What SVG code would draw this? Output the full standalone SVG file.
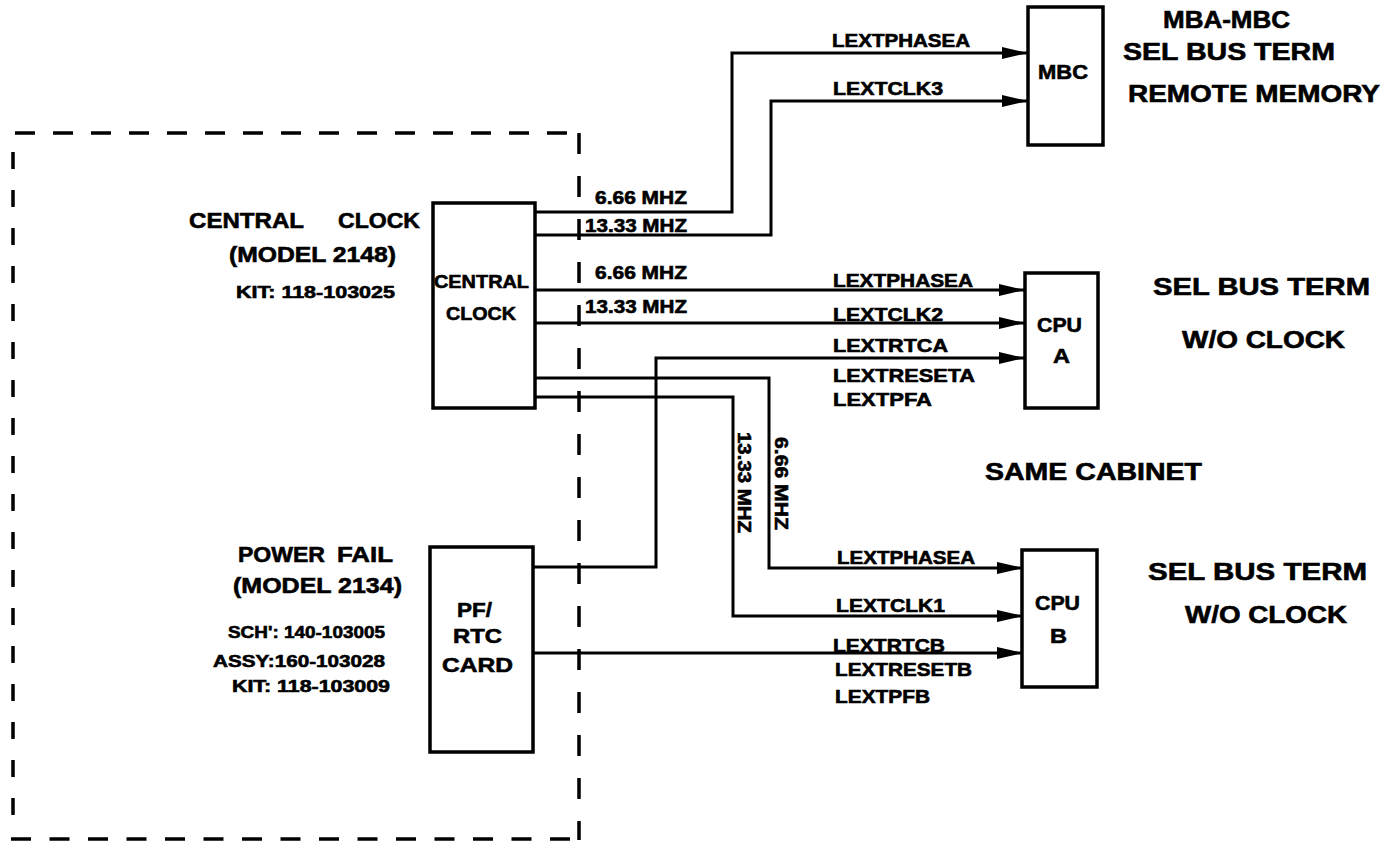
<svg xmlns="http://www.w3.org/2000/svg" width="1383" height="843" viewBox="0 0 1383 843">
<style>
text{font-family:"Liberation Sans",Arial,Helvetica,sans-serif;font-weight:bold;fill:#000;stroke:#000;stroke-width:0.6}
.sig{font-size:18px}
.lg{font-size:22px}
.rt{font-size:24px}
.sm{font-size:17px}
.bx{font-size:21px}
.box{fill:#fff;stroke:#000;stroke-width:3.5}
.wire{fill:none;stroke:#000;stroke-width:3;marker-end:url(#arr)}
.dash{fill:none;stroke:#000;stroke-width:3.5}
</style>
<defs>
<marker id="arr" markerUnits="userSpaceOnUse" markerWidth="26" markerHeight="14" refX="26" refY="7" orient="auto">
<path d="M0,1 L26,7 L0,13 Z" fill="#000"/>
</marker>
</defs>
<rect width="1383" height="843" fill="#fff"/>

<g id="cabinet-border">
<path class="dash" d="M15,133 H580" stroke-dasharray="20 18"/>
<path class="dash" d="M579,133 V840" stroke-dasharray="21 22"/>
<path class="dash" d="M13,152 V830" stroke-dasharray="17 21"/>
<path class="dash" d="M11,839 H578" stroke-dasharray="20 18.5"/>
</g>

<g id="connectors">
<path class="wire" d="M535,212 H732 V53 H1028"/>
<path class="wire" d="M535,235 H771 V101 H1028"/>
<path class="wire" d="M535,290 H1025"/>
<path class="wire" d="M535,323 H1025"/>
<path class="wire" d="M535,378 H769 V568 H1023"/>
<path class="wire" d="M535,397 H733 V616 H1023"/>
<path class="wire" d="M533,567 H656 V358 H1025"/>
<path class="wire" d="M533,653 H1023"/>
<text class="sig" x="595" y="204" textLength="92" lengthAdjust="spacingAndGlyphs">6.66 MHZ</text>
<text class="sig" x="585" y="232" textLength="102" lengthAdjust="spacingAndGlyphs">13.33 MHZ</text>
<text class="sig" x="832" y="47" textLength="138" lengthAdjust="spacingAndGlyphs">LEXTPHASEA</text>
<text class="sig" x="833" y="95" textLength="110" lengthAdjust="spacingAndGlyphs">LEXTCLK3</text>
<text class="sig" x="595" y="279" textLength="92" lengthAdjust="spacingAndGlyphs">6.66 MHZ</text>
<text class="sig" x="585" y="313" textLength="102" lengthAdjust="spacingAndGlyphs">13.33 MHZ</text>
<text class="sig" x="833" y="287" textLength="140" lengthAdjust="spacingAndGlyphs">LEXTPHASEA</text>
<text class="sig" x="833" y="321" textLength="110" lengthAdjust="spacingAndGlyphs">LEXTCLK2</text>
<text class="sig" x="833" y="352" textLength="115" lengthAdjust="spacingAndGlyphs">LEXTRTCA</text>
<text class="sig" x="833" y="382" textLength="142" lengthAdjust="spacingAndGlyphs">LEXTRESETA</text>
<text class="sig" x="833" y="406" textLength="99" lengthAdjust="spacingAndGlyphs">LEXTPFA</text>
<text class="sig" transform="translate(738,432) rotate(90)" textLength="101" lengthAdjust="spacingAndGlyphs">13.33 MHZ</text>
<text class="sig" transform="translate(775,437) rotate(90)" textLength="93" lengthAdjust="spacingAndGlyphs">6.66 MHZ</text>
<text class="sig" x="837" y="564" textLength="138" lengthAdjust="spacingAndGlyphs">LEXTPHASEA</text>
<text class="sig" x="836" y="612" textLength="109" lengthAdjust="spacingAndGlyphs">LEXTCLK1</text>
<text class="sig" x="833" y="652" textLength="112" lengthAdjust="spacingAndGlyphs">LEXTRTCB</text>
<text class="sig" x="835" y="676" textLength="137" lengthAdjust="spacingAndGlyphs">LEXTRESETB</text>
<text class="sig" x="835" y="703" textLength="95" lengthAdjust="spacingAndGlyphs">LEXTPFB</text>
</g>

<g id="central-clock">
<rect class="box" x="433" y="203" width="102" height="205"/>
<text class="sig" x="434" y="288" textLength="95" lengthAdjust="spacingAndGlyphs">CENTRAL</text>
<text class="sig" x="446" y="320" textLength="70" lengthAdjust="spacingAndGlyphs">CLOCK</text>
<text class="lg"><tspan x="189" y="228" textLength="115" lengthAdjust="spacingAndGlyphs">CENTRAL</tspan><tspan x="338" y="228" textLength="82" lengthAdjust="spacingAndGlyphs">CLOCK</tspan></text>
<text class="lg" x="229" y="262" textLength="167" lengthAdjust="spacingAndGlyphs">(MODEL 2148)</text>
<text class="sm" x="236" y="298" textLength="159" lengthAdjust="spacingAndGlyphs">KIT: 118-103025</text>
</g>

<g id="pf-rtc-card">
<rect class="box" x="430" y="547" width="103" height="205"/>
<text class="bx" x="457" y="617" textLength="35" lengthAdjust="spacingAndGlyphs">PF/</text>
<text class="bx" x="453" y="643" textLength="49" lengthAdjust="spacingAndGlyphs">RTC</text>
<text class="bx" x="442" y="672" textLength="71" lengthAdjust="spacingAndGlyphs">CARD</text>
<text class="lg"><tspan x="238" y="562" textLength="87" lengthAdjust="spacingAndGlyphs">POWER</tspan><tspan x="337" y="562" textLength="56" lengthAdjust="spacingAndGlyphs">FAIL</tspan></text>
<text class="lg" x="233" y="593" textLength="169" lengthAdjust="spacingAndGlyphs">(MODEL 2134)</text>
<text class="sm" x="228" y="638" textLength="157" lengthAdjust="spacingAndGlyphs">SCH': 140-103005</text>
<text class="sm" x="213" y="667" textLength="172" lengthAdjust="spacingAndGlyphs">ASSY:160-103028</text>
<text class="sm" x="232" y="692" textLength="158" lengthAdjust="spacingAndGlyphs">KIT: 118-103009</text>
</g>

<g id="mbc">
<rect class="box" x="1028" y="7" width="75" height="138"/>
<text class="bx" x="1038" y="79" textLength="50" lengthAdjust="spacingAndGlyphs">MBC</text>
<text class="rt" x="1163" y="28" textLength="127" lengthAdjust="spacingAndGlyphs">MBA-MBC</text>
<text class="rt" x="1123" y="60" textLength="212" lengthAdjust="spacingAndGlyphs">SEL BUS TERM</text>
<text class="rt" x="1128" y="102" textLength="252" lengthAdjust="spacingAndGlyphs">REMOTE MEMORY</text>
</g>

<g id="cpu-a">
<rect class="box" x="1025" y="273" width="73" height="135"/>
<text class="bx" x="1037" y="332" textLength="45" lengthAdjust="spacingAndGlyphs">CPU</text>
<text class="bx" x="1053" y="363" textLength="17" lengthAdjust="spacingAndGlyphs">A</text>
<text class="rt" x="1153" y="295" textLength="217" lengthAdjust="spacingAndGlyphs">SEL BUS TERM</text>
<text class="rt" x="1182" y="348" textLength="163" lengthAdjust="spacingAndGlyphs">W/O CLOCK</text>
</g>

<text id="same-cabinet" class="rt" x="985" y="480" textLength="217" lengthAdjust="spacingAndGlyphs">SAME CABINET</text>

<g id="cpu-b">
<rect class="box" x="1022" y="550" width="75" height="137"/>
<text class="bx" x="1035" y="610" textLength="45" lengthAdjust="spacingAndGlyphs">CPU</text>
<text class="bx" x="1050" y="643" textLength="17" lengthAdjust="spacingAndGlyphs">B</text>
<text class="rt" x="1148" y="580" textLength="219" lengthAdjust="spacingAndGlyphs">SEL BUS TERM</text>
<text class="rt" x="1185" y="623" textLength="162" lengthAdjust="spacingAndGlyphs">W/O CLOCK</text>
</g>
</svg>
